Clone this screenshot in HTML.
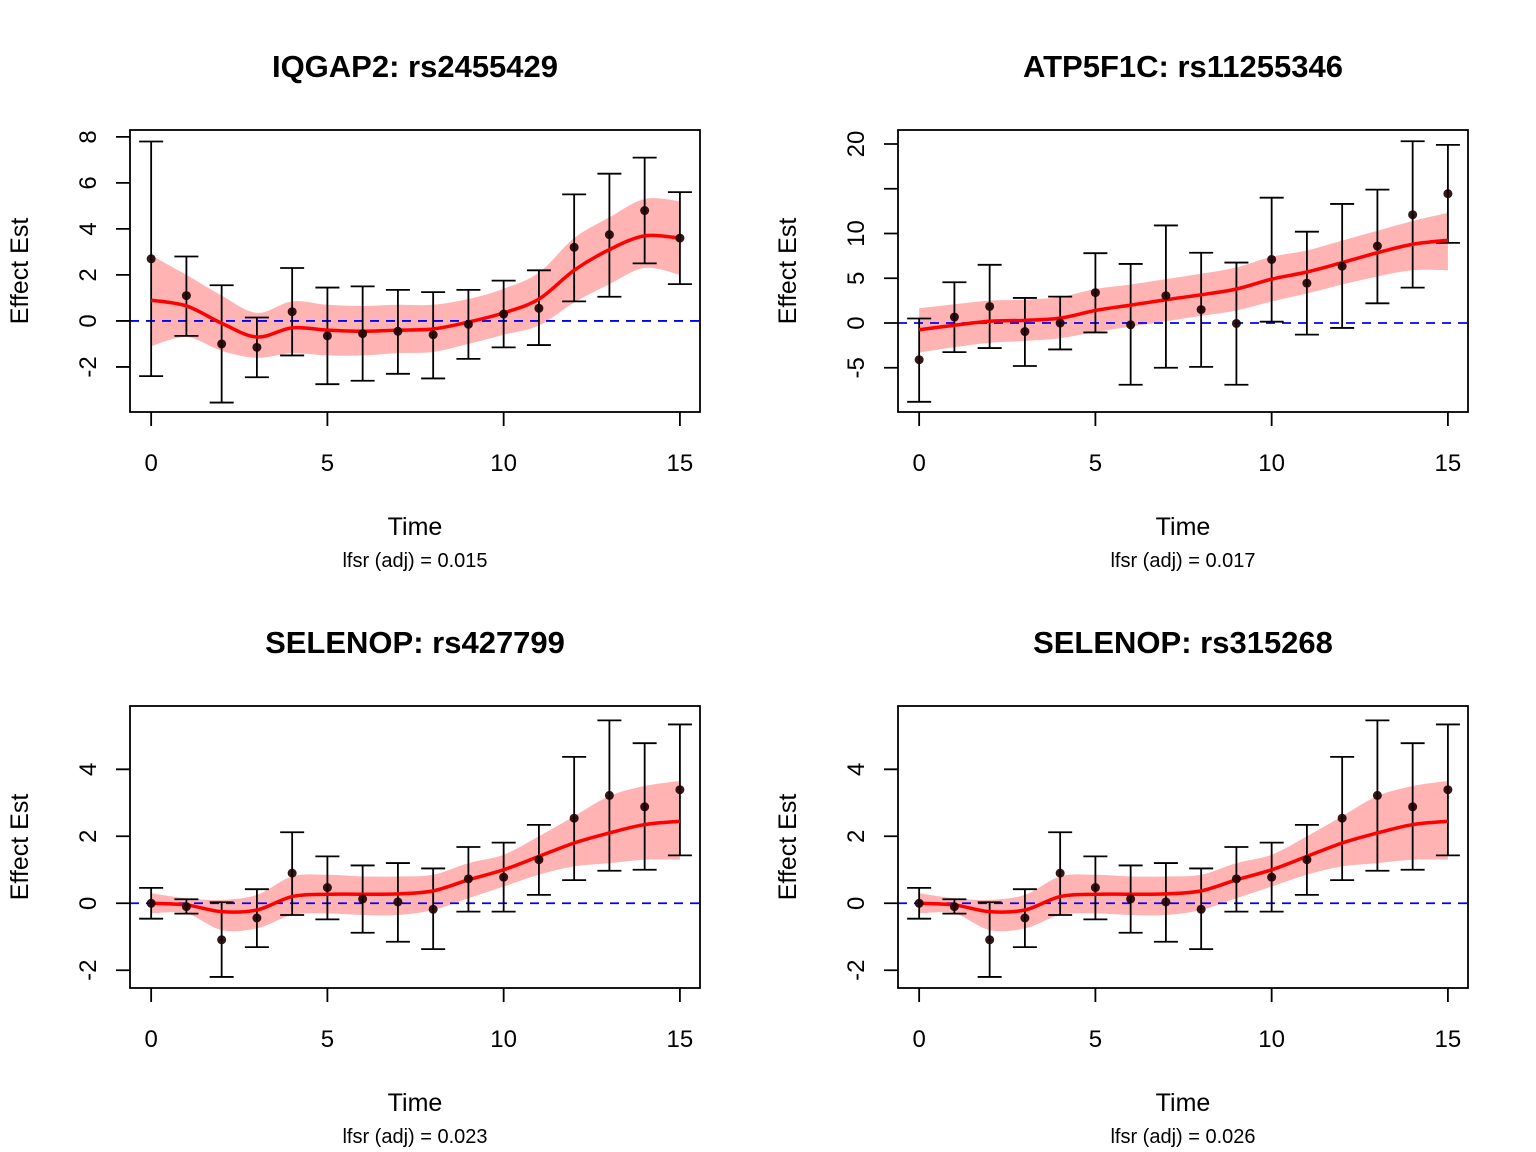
<!DOCTYPE html>
<html><head><meta charset="utf-8"><style>
body{margin:0;background:#fff;}
svg{display:block;font-family:"Liberation Sans",Arial,sans-serif;}
</style></head><body>
<svg id="chart" width="1536" height="1152" viewBox="0 0 1536 1152"></svg>
<script>
const times=[0,1,2,3,4,5,6,7,8,9,10,11,12,13,14,15];
const titles=["IQGAP2: rs2455429","ATP5F1C: rs11255346","SELENOP: rs427799","SELENOP: rs315268"];
const lfsrLabels=["lfsr (adj) = 0.015","lfsr (adj) = 0.017","lfsr (adj) = 0.023","lfsr (adj) = 0.026"];
const yTicks1=[-2,0,2,4,6,8];
const yTicks2=[-5,0,5,10,15,20];
const yTickLabels2=["-5","0","5","10","","20"];
const yTicks3=[-2,0,2,4];
const xTicks=[0,5,10,15];
// panel 1
const est1=[2.7,1.1,-1.0,-1.15,0.4,-0.65,-0.55,-0.45,-0.6,-0.15,0.3,0.55,3.2,3.75,4.8,3.6];
const hi1=[7.8,2.8,1.55,0.15,2.3,1.45,1.5,1.35,1.25,1.35,1.75,2.2,5.5,6.4,7.1,5.6];
const lo1=[-2.4,-0.65,-3.55,-2.45,-1.5,-2.75,-2.6,-2.3,-2.5,-1.65,-1.15,-1.05,0.85,1.05,2.5,1.6];
const fit1=[0.9,0.65,-0.1,-0.7,-0.3,-0.4,-0.45,-0.4,-0.35,-0.05,0.35,0.95,2.2,3.1,3.7,3.6];
const bandHi1=[2.85,2.0,1.1,0.35,0.85,0.7,0.65,0.7,0.7,0.95,1.4,2.1,3.6,4.5,5.3,5.2];
const bandLo1=[-1.1,-0.7,-1.3,-1.6,-1.4,-1.5,-1.5,-1.4,-1.35,-1.0,-0.6,-0.2,0.8,1.6,2.3,2.0];
// panel 2
const est2=[-4.1,0.67,1.85,-0.95,0,3.4,-0.2,3.05,1.5,-0.05,7.1,4.45,6.35,8.6,12.1,14.45];
const hi2=[0.5,4.55,6.5,2.8,2.95,7.8,6.6,10.9,7.85,6.75,14.0,10.2,13.3,14.9,20.3,19.9];
const lo2=[-8.8,-3.25,-2.8,-4.8,-2.95,-1.05,-6.9,-5.0,-4.9,-6.9,0.15,-1.3,-0.55,2.2,3.95,8.95];
const fit2=[-0.75,-0.25,0.2,0.3,0.55,1.4,2.0,2.6,3.15,3.8,4.9,5.7,6.75,7.85,8.8,9.25];
const bandHi2=[1.65,2.1,2.5,2.6,2.9,3.8,4.3,4.9,5.5,6.2,7.4,8.1,9.2,10.3,11.4,12.3];
const bandLo2=[-3.3,-2.7,-2.2,-2.0,-1.7,-1.0,-0.4,0.2,0.8,1.4,2.4,3.3,4.3,5.2,5.9,5.9];
// panel 3
const est3=[0,-0.1,-1.09,-0.44,0.9,0.47,0.13,0.04,-0.18,0.73,0.78,1.3,2.54,3.22,2.88,3.39];
const hi3=[0.46,0.12,0.03,0.42,2.12,1.4,1.13,1.2,1.04,1.68,1.81,2.34,4.37,5.46,4.78,5.34];
const lo3=[-0.46,-0.31,-2.2,-1.31,-0.35,-0.48,-0.88,-1.15,-1.37,-0.25,-0.25,0.25,0.69,0.97,1.0,1.43];
const fit3=[0,-0.05,-0.25,-0.2,0.2,0.27,0.27,0.28,0.37,0.7,1.0,1.4,1.8,2.1,2.35,2.45];
const bandHi3=[0.3,0.15,0.1,0.25,0.8,0.85,0.8,0.8,0.85,1.2,1.45,2.0,2.6,3.2,3.5,3.65];
const bandLo3=[-0.3,-0.3,-0.8,-0.75,-0.35,-0.3,-0.35,-0.35,-0.2,0.15,0.5,0.85,1.1,1.2,1.3,1.3];
// panel 4
const est4=[0,-0.1,-1.09,-0.44,0.9,0.47,0.13,0.04,-0.18,0.73,0.78,1.3,2.54,3.22,2.88,3.39];
const hi4=[0.46,0.12,0.03,0.42,2.12,1.4,1.13,1.2,1.04,1.68,1.81,2.34,4.37,5.46,4.78,5.34];
const lo4=[-0.46,-0.31,-2.2,-1.31,-0.35,-0.48,-0.88,-1.15,-1.37,-0.25,-0.25,0.25,0.69,0.97,1.0,1.43];
const fit4=[0,-0.05,-0.25,-0.2,0.2,0.27,0.27,0.28,0.37,0.7,1.0,1.4,1.8,2.1,2.35,2.45];
const bandHi4=[0.3,0.15,0.1,0.25,0.8,0.85,0.8,0.8,0.85,1.2,1.45,2.0,2.6,3.2,3.5,3.65];
const bandLo4=[-0.3,-0.3,-0.8,-0.75,-0.35,-0.3,-0.35,-0.35,-0.2,0.15,0.5,0.85,1.1,1.2,1.3,1.3];

const NS="http://www.w3.org/2000/svg";
const svg=document.getElementById('chart');
function mk(tag,attrs,parent){const e=document.createElementNS(NS,tag);for(const k in attrs)e.setAttribute(k,attrs[k]);(parent||svg).appendChild(e);return e;}
function smooth(P){
 let d=`M${P[0][0]},${P[0][1]}`;
 for(let i=0;i<P.length-1;i++){
  const p0=P[Math.max(0,i-1)],p1=P[i],p2=P[i+1],p3=P[Math.min(P.length-1,i+2)];
  const c1x=p1[0]+(p2[0]-p0[0])/6,c1y=p1[1]+(p2[1]-p0[1])/6;
  const c2x=p2[0]-(p3[0]-p1[0])/6,c2y=p2[1]-(p3[1]-p1[1])/6;
  d+=`C${c1x},${c1y} ${c2x},${c2y} ${p2[0]},${p2[1]}`;
 }
 return d;
}

const panels=[
 {ox:0,oy:0,ymin:-3.96,ymax:8.3,ticks:yTicks1,labels:yTicks1.map(String),est:est1,hi:hi1,lo:lo1,fit:fit1,bh:bandHi1,bl:bandLo1},
 {ox:768,oy:0,ymin:-9.94,ymax:21.56,ticks:yTicks2,labels:yTickLabels2,est:est2,hi:hi2,lo:lo2,fit:fit2,bh:bandHi2,bl:bandLo2},
 {ox:0,oy:576,ymin:-2.53,ymax:5.89,ticks:yTicks3,labels:yTicks3.map(String),est:est3,hi:hi3,lo:lo3,fit:fit3,bh:bandHi3,bl:bandLo3},
 {ox:768,oy:576,ymin:-2.53,ymax:5.89,ticks:yTicks3,labels:yTicks3.map(String),est:est4,hi:hi4,lo:lo4,fit:fit4,bh:bandHi4,bl:bandLo4}
];
panels.forEach((p,i)=>{
 const L=130+p.ox,R=700+p.ox,T=130+p.oy,B=412+p.oy;
 const g=mk('g',{});
 
 
 const xs=v=>L+(v+0.6)/(16.17)*(R-L);
 const ys=v=>B-(v-p.ymin)/(p.ymax-p.ymin)*(B-T);
 // band
 const up=times.map((t,j)=>[xs(t),ys(p.bh[j])]);
 const dn=times.map((t,j)=>[xs(t),ys(p.bl[j])]).reverse();
 const band=mk('path',{d:smooth(up)+smooth(dn).replace('M','L')+'Z',fill:'#ffb3b3',stroke:'none'},g);
 
 
 // zero line
 const z=mk('line',{x1:L,x2:R,y1:ys(0),y2:ys(0),stroke:'#0000ff','stroke-width':1.8,'stroke-dasharray':'9,7'},g);
 
 
 // error bars
 times.forEach((t,j)=>{
  const x=xs(t);
  const eb=mk('path',{d:`M${x},${ys(p.hi[j])}V${ys(p.lo[j])}M${x-12},${ys(p.hi[j])}H${x+12}M${x-12},${ys(p.lo[j])}H${x+12}`,stroke:'#000','stroke-width':1.8,fill:'none'},g);
  
  
 });
 // fit line
 const fl=mk('path',{d:smooth(times.map((t,j)=>[xs(t),ys(p.fit[j])])),fill:'none',stroke:'#ff0000','stroke-width':3.5,'stroke-linejoin':'round'},g);
 
 
 // points
 times.forEach((t,j)=>{
  const c=mk('circle',{cx:xs(t),cy:ys(p.est[j]),r:4.5,fill:'#1a0000','fill-opacity':0.9},g);
  
  
 });
 // box
 const bx=mk('rect',{x:L,y:T,width:R-L,height:B-T,fill:'none',stroke:'#000','stroke-width':1.8},g);
 
 
 // x axis ticks from box
 const xa=mk('path',{d:xTicks.map(v=>`M${xs(v)},${B}v14`).join(''),stroke:'#000','stroke-width':1.8,fill:'none'},g);
 
 
 xTicks.forEach(v=>{
  const tx=mk('text',{x:xs(v),y:B+59,'font-size':24,'text-anchor':'middle'},g);tx.textContent=v;
  
  
 });
 // y axis ticks from box
 const ya=mk('path',{d:p.ticks.map(v=>`M${L},${ys(v)}h-14`).join(''),stroke:'#000','stroke-width':1.8,fill:'none'},g);
 
 
 p.ticks.forEach((v,k)=>{
  const x=L-34,y=ys(v);
  const tx=mk('text',{x:x,y:y,'font-size':24,'text-anchor':'middle',transform:`rotate(-90 ${x} ${y})`},g);tx.textContent=p.labels[k];
  
  
 });
 const yl=mk('text',{x:28+p.ox,y:271+p.oy,'font-size':25,'text-anchor':'middle',transform:`rotate(-90 ${28+p.ox} ${271+p.oy})`},g);yl.textContent='Effect Est';
 
 
 const xl=mk('text',{x:415+p.ox,y:535+p.oy,'font-size':25,'text-anchor':'middle'},g);xl.textContent='Time';
 
 
 const lf=mk('text',{x:415+p.ox,y:567+p.oy,'font-size':20,'text-anchor':'middle'},g);lf.textContent=lfsrLabels[i];
 
 
 const ti=mk('text',{x:415+p.ox,y:77+p.oy,'font-size':31,'font-weight':'bold','text-anchor':'middle'},g);ti.textContent=titles[i];
 
 
});
</script>
</body></html>
